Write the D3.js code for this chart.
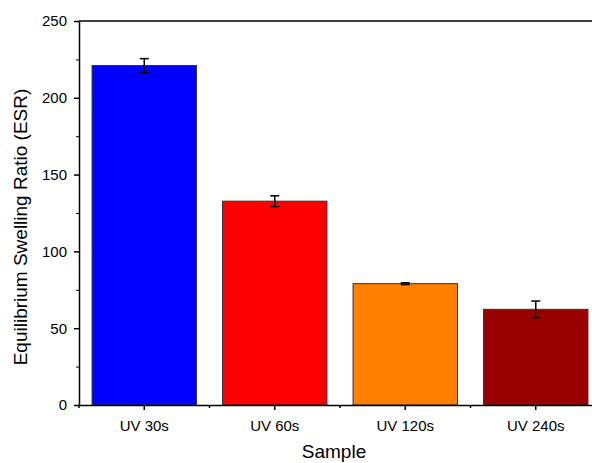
<!DOCTYPE html>
<html>
<head>
<meta charset="utf-8">
<script src="https://cdn.jsdelivr.net/npm/d3@7"></script>
<style>
  body { margin: 0; background: #fff; }
  text { font-family: Arial, "Liberation Sans", sans-serif; }
</style>
</head>
<body>
<div id="chart"></div>
<script>
// Chart data
const categories = ["UV 30s", "UV 60s", "UV 120s", "UV 240s"];
const values = [221, 132.7, 79, 62.3];
const errors = [4.5, 3.5, 0.6, 5.4];
const barColors = ["#0000ff", "#ff0000", "#ff8000", "#990000"];
const yTicks = [0, 50, 100, 150, 200, 250];

const width = 592;
const height = 463;
const margin = { top: 21, left: 79, bottom: 58 };
const plotRight = 601; // frame runs past the picture edge

const svg = d3.select("#chart")
    .append("svg")
    .attr("width", width)
    .attr("height", height);

const x = d3.scaleBand()
    .domain(categories)
    .range([margin.left, plotRight])
    .paddingInner(0.2)
    .paddingOuter(0.1);

const y = d3.scaleLinear()
    .domain([0, 250])
    .range([height - margin.bottom, margin.top]);

// Top frame line
svg.append("line")
    .attr("x1", margin.left).attr("x2", plotRight)
    .attr("y1", y(250)).attr("y2", y(250))
    .attr("stroke", "#000").attr("stroke-width", 1.5);

// Bars
svg.selectAll(".bar")
    .data(categories)
    .enter()
    .append("rect")
    .attr("class", "bar")
    .attr("x", d => x(d))
    .attr("width", x.bandwidth())
    .attr("y", (d, i) => y(values[i]))
    .attr("height", (d, i) => y(0) - y(values[i]))
    .attr("fill", (d, i) => barColors[i])
    .attr("stroke", "#333")
    .attr("stroke-width", 1);

// Error bars
const errG = svg.selectAll(".err")
    .data(categories)
    .enter()
    .append("g")
    .attr("class", "err")
    .attr("stroke", "#000")
    .attr("stroke-width", 1.5);

errG.append("line")
    .attr("x1", d => x(d) + x.bandwidth() / 2)
    .attr("x2", d => x(d) + x.bandwidth() / 2)
    .attr("y1", (d, i) => y(values[i] + errors[i]))
    .attr("y2", (d, i) => y(values[i] - errors[i]));

[1, -1].forEach(s => {
    errG.append("line")
        .attr("x1", d => x(d) + x.bandwidth() / 2 - 4.5)
        .attr("x2", d => x(d) + x.bandwidth() / 2 + 4.5)
        .attr("y1", (d, i) => y(values[i] + s * errors[i]))
        .attr("y2", (d, i) => y(values[i] + s * errors[i]));
});

// Y axis
const yAxis = svg.append("g")
    .attr("transform", `translate(${margin.left},0)`)
    .call(d3.axisLeft(y).tickValues(yTicks).tickSize(5).tickPadding(7).tickSizeOuter(0));

svg.append("g")
    .attr("transform", `translate(${margin.left},0)`)
    .call(d3.axisLeft(y).tickValues(d3.range(25, 250, 50)).tickSize(3).tickFormat("").tickSizeOuter(0))
    .select(".domain").remove();

// X axis
const xAxis = svg.append("g")
    .attr("transform", `translate(0,${y(0)})`)
    .call(d3.axisBottom(x).tickSize(5).tickPadding(10).tickSizeOuter(0));

// minor ticks at category boundaries
const step = x.step();
svg.selectAll(".xminor")
    .data(d3.range(0, 5))
    .enter()
    .append("line")
    .attr("x1", i => margin.left + i * step)
    .attr("x2", i => margin.left + i * step)
    .attr("y1", y(0))
    .attr("y2", y(0) + 3)
    .attr("stroke", "#000")
    .attr("stroke-width", 1.5);

[yAxis, xAxis].forEach(a => {
    a.selectAll(".domain").attr("stroke-width", 1.5);
    a.selectAll(".tick line").attr("stroke-width", 1.5);
    a.selectAll(".tick text").attr("font-size", 15).attr("fill", "#000")
        .style("font-family", "Arial, 'Liberation Sans', sans-serif");
});

// Axis titles
svg.append("text")
    .attr("x", 334)
    .attr("y", 458)
    .attr("text-anchor", "middle")
    .attr("font-size", 19)
    .text("Sample");

svg.append("text")
    .attr("transform", `translate(27,${(y(0) + y(250)) / 2 + 14}) rotate(-90)`)
    .attr("text-anchor", "middle")
    .attr("font-size", 19)
    .text("Equilibrium Swelling Ratio (ESR)");
</script>
</body>
</html>
